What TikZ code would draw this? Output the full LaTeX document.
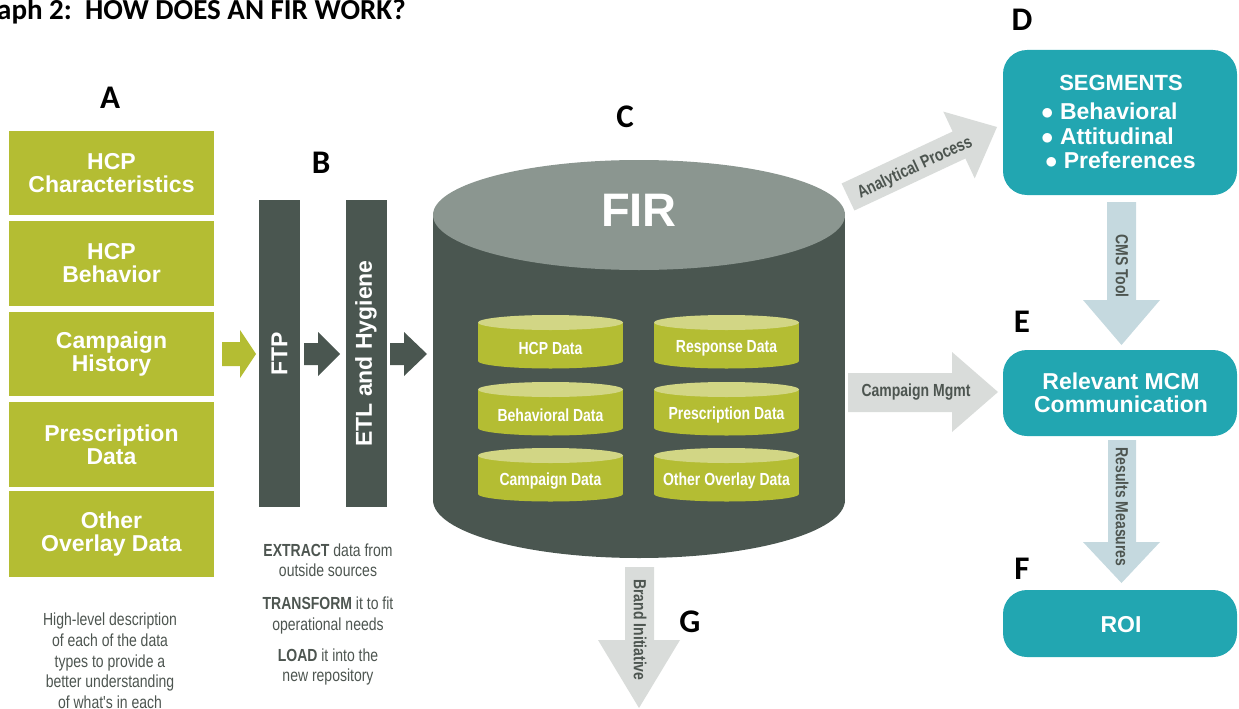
\documentclass[tikz,border=0pt]{standalone}
\usepackage{fontspec}
\setmainfont{Liberation Sans}
\newfontfamily\condfont[FakeStretch=0.8]{Liberation Sans}
\newfontfamily\calfont{Carlito}
\definecolor{ygreen}{HTML}{B4BD33}
\definecolor{ylight}{HTML}{D2D685}
\definecolor{darkgr}{HTML}{4A5650}
\definecolor{topgr}{HTML}{8B9690}
\definecolor{teal}{HTML}{22A6B1}
\definecolor{lgray}{HTML}{D9DCDA}
\definecolor{lblue}{HTML}{C5D9DF}
\definecolor{txtgr}{HTML}{4D5550}
\newcommand{\smallcyl}[4]{% name, center x, top y, text
  \fill[ygreen] (#2-72.5,#3+7.5) rectangle (#2+72.5,#3+46);
  \fill[ygreen] (#2,#3+46) ellipse [x radius=72.5, y radius=7.5];
  \fill[ylight] (#2,#3+7.5) ellipse [x radius=72.5, y radius=7.5];
  \node[cyltext] (#1) at (#2,#3+33) {#4};
}
\begin{document}
\begin{tikzpicture}[x=1pt,y=-1pt,
  lbox/.style={fill=ygreen, text=white, font=\fontsize{23}{23}\selectfont\bfseries, align=center, inner sep=0, minimum width=205pt},
  bar/.style={fill=darkgr, text=white, inner sep=0, minimum width=41pt, minimum height=307pt},
  bartext/.style={rotate=90, text=white, font=\fontsize{23}{24}\selectfont\bfseries, inner sep=0},
  letter/.style={font=\calfont\fontsize{33}{33}\selectfont\bfseries, text=black, inner sep=0},
  cyltext/.style={font=\condfont\fontsize{17.5}{18}\selectfont\bfseries, text=white, inner sep=0},
  desc/.style={font=\condfont\fontsize{17.5}{20.7}\selectfont, text=txtgr, align=center, inner sep=0},
  tbox/.style={fill=teal, rounded corners=24pt, text=white, inner sep=0, minimum width=234pt},
  arrlabel/.style={font=\condfont\fontsize{17.5}{18}\selectfont\bfseries, text=txtgr, inner sep=0},
]
\useasboundingbox (0,0) rectangle (1239,709);

% title
\node[font=\calfont\fontsize{29}{29}\selectfont\bfseries, anchor=west, inner sep=0] (title) at (-3,11.5) {aph 2:\ \ HOW DOES AN FIR WORK?};

% letters
\node[letter] (lA) at (110,98) {A};
\node[letter] (lB) at (321,163) {B};
\node[letter] (lC) at (625,117) {C};
\node[letter] (lD) at (1022,20) {D};
\node[letter] (lE) at (1022,322) {E};
\node[letter] (lF) at (1022,569) {F};
\node[letter] (lG) at (690,622) {G};

% left column
\node[lbox, minimum height=84pt] (a1) at (111.5,173) {HCP\\Characteristics};
\node[lbox, minimum height=85pt] (a2) at (111.5,263.5) {HCP\\Behavior};
\node[lbox, minimum height=84pt] (a3) at (111.5,354) {Campaign\\History};
\node[lbox, minimum height=85pt] (a4) at (111.5,444.5) {Prescription\\Data};
\node[lbox, minimum height=86pt] (a5) at (111.5,534) {Other\\Overlay Data};

\node[desc] (descA) at (110,661) {High-level description\\of each of the data\\types to provide a\\better understanding\\of what's in each};

% arrows into bars
\fill[ygreen] (222,342) -- (240,342) -- (240,330) -- (256,354) -- (240,378) -- (240,366) -- (222,366) -- cycle;
\fill[darkgr] (304,343) -- (318,343) -- (318,332) -- (340,354) -- (318,376) -- (318,365) -- (304,365) -- cycle;
\fill[darkgr] (390,343) -- (404,343) -- (404,332) -- (427,354) -- (404,376) -- (404,365) -- (390,365) -- cycle;

% bars
\node[bar] (ftp) at (279.5,353.5) {};
\node[bartext] (ftpt) at (ftp) {FTP};
\node[bar] (etl) at (366,353.5) {};
\node[bartext] (etlt) at (etl) {ETL and Hygiene};

\node[desc] (descB) at (328,614.5) {\textbf{EXTRACT} data from\\outside sources\\[12pt]\textbf{TRANSFORM} it to fit\\operational needs\\[10pt]\textbf{LOAD} it into the\\new repository};

% big cylinder
\fill[darkgr] (433,215) rectangle (845,500);
\fill[darkgr] (639,500) ellipse [x radius=206, y radius=58];
\fill[topgr] (639,215) ellipse [x radius=206, y radius=55];
\node[font=\fontsize{47}{47}\selectfont\bfseries, text=white, inner sep=0] (fir) at (639,210) {FIR};

\smallcyl{hcp}{550.5}{315}{HCP Data}
\smallcyl{resp}{726.5}{315}{Response Data}
\smallcyl{beh}{550.5}{382}{Behavioral Data}
\smallcyl{presc}{726.5}{382}{Prescription Data}
\smallcyl{camp}{550.5}{448}{Campaign Data}
\smallcyl{other}{726.5}{448}{Other Overlay Data}

% analytical process arrow
\fill[lgray] (841.6,183.5) -- (952.6,131.5) -- (943.3,111.6) -- (997,127) -- (974.7,178.4) -- (965.4,158.5) -- (854.4,210.5) -- cycle;
\node[arrlabel, rotate=25] (anl) at (915,168) {Analytical Process};

% campaign mgmt arrow
\fill[lgray] (848,373) -- (952,373) -- (952,352) -- (998,392) -- (952,432) -- (952,412) -- (848,412) -- cycle;
\node[arrlabel] (cmg) at (916,392) {Campaign Mgmt};

% brand initiative arrow
\fill[lgray] (625,567) -- (654,567) -- (654,640) -- (680,640) -- (639,708) -- (598,640) -- (625,640) -- cycle;
\node[arrlabel, rotate=-90] (brand) at (640,630) {Brand Initiative};

% right column
\node[tbox, minimum height=145pt] (d) at (1120,122.5) {};
\node[font=\fontsize{22}{22}\selectfont\bfseries, text=white, inner sep=0] (seg) at (1121,83) {SEGMENTS};
\node[font=\fontsize{23}{24.5}\selectfont\bfseries, text=white, align=left, anchor=north west, inner sep=0] (segl) at (1041,103) {$\bullet$ Behavioral\\$\bullet$ Attitudinal\\\,$\bullet$ Preferences};

\fill[lblue] (1107,202) -- (1136,202) -- (1136,300) -- (1160,300) -- (1121.5,345) -- (1083,300) -- (1107,300) -- cycle;
\node[arrlabel, rotate=-90] (cms) at (1122,266) {CMS Tool};

\node[tbox, minimum height=86pt] (e) at (1120,393) {};
\node[font=\fontsize{23}{22.5}\selectfont\bfseries, text=white, align=center, inner sep=0] (etext) at (1121,393) {Relevant MCM\\Communication};

\fill[lblue] (1108,440) -- (1136,440) -- (1136,542) -- (1160,542) -- (1121.5,583) -- (1083,542) -- (1108,542) -- cycle;
\node[arrlabel, rotate=-90] (res) at (1122,507) {Results Measures};

\node[tbox, minimum height=67pt] (f) at (1120,623.5) {};
\node[font=\fontsize{23}{23}\selectfont\bfseries, text=white, inner sep=0] (roi) at (1121,625) {ROI};
\end{tikzpicture}
\end{document}
